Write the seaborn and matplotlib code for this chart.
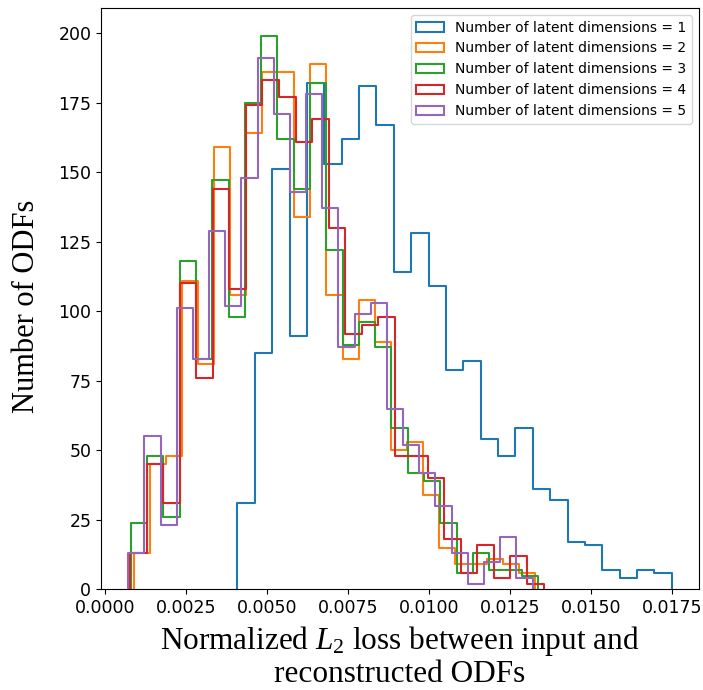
import numpy as np
import pandas as pd
import matplotlib
matplotlib.use("Agg")
import matplotlib.pyplot as plt
import seaborn as sns
from matplotlib.patches import Patch

# ---- data (25 bins per series, counts per bin) ----
labels = [f"Number of latent dimensions = {k}" for k in range(1, 6)]
colors = ["#1f77b4", "#ff7f0e", "#2ca02c", "#d62728", "#9467bd"]

bin_lo = [0.00409, 0.000903, 0.000801, 0.000780, 0.000718]
bin_hi = [0.01750, 0.01327, 0.01337, 0.01354, 0.01320]

counts_1 = [31, 85, 151, 91, 182, 153, 162, 181, 167, 114, 128, 109, 79,
            82, 54, 48, 58, 36, 32, 17, 16, 7, 4, 7, 6]
counts_2 = [13, 45, 48, 111, 81, 159, 106, 164, 186, 186, 134, 189, 106,
            83, 104, 89, 50, 53, 34, 15, 9, 9, 11, 9, 6]
counts_3 = [24, 48, 26, 118, 83, 147, 98, 175, 199, 162, 144, 182, 122,
            88, 96, 87, 58, 42, 39, 24, 6, 13, 7, 7, 5]
counts_4 = [13, 45, 31, 110, 76, 144, 108, 174, 183, 177, 161, 169, 130,
            92, 95, 98, 48, 48, 40, 18, 6, 16, 4, 12, 2]
counts_5 = [13, 55, 23, 101, 83, 129, 102, 148, 191, 171, 143, 178, 137,
            87, 99, 103, 65, 52, 42, 30, 13, 2, 10, 19, 4]
all_counts = [counts_1, counts_2, counts_3, counts_4, counts_5]

xlabel = "Normalized $L_2$ loss between input and\nreconstructed ODFs"
ylabel = "Number of ODFs"

plt.rcParams["mathtext.fontset"] = "custom"
plt.rcParams["mathtext.rm"] = "Liberation Serif"
plt.rcParams["mathtext.it"] = "Liberation Serif:italic"

fig = plt.figure(figsize=(7.03, 6.90), dpi=100)
ax = fig.add_axes([0.1437, 0.1457, 0.8506, 0.8427])

for lo, hi, cnt, col in zip(bin_lo, bin_hi, all_counts, colors):
    edges = np.linspace(lo, hi, len(cnt) + 1)
    df = pd.DataFrame({"loss": 0.5 * (edges[:-1] + edges[1:]),
                       "count": np.asarray(cnt, dtype=float)})
    # zero-width end bins so the outline drops to the baseline at both ends
    padded = [float(lo)] + [float(e) for e in edges] + [float(hi)]
    sns.histplot(data=df, x="loss", weights="count", bins=padded,
                 element="step", fill=False, color=col, linewidth=1.5, ax=ax)

ax.set_xticks(np.arange(0, 0.0176, 0.0025))
ax.xaxis.set_major_formatter(matplotlib.ticker.FormatStrFormatter("%.4f"))
ax.tick_params(labelsize=12.5)
ax.set_ylim(0, 209)

ax.set_xlabel(xlabel, fontsize=22.5, family="Liberation Serif", linespacing=1.08)
ax.set_ylabel(ylabel, fontsize=22, family="Liberation Serif")
ax.xaxis.set_label_coords(0.5, -0.060)
ax.yaxis.set_label_coords(-0.10, 0.487)

handles = [Patch(facecolor="none", edgecolor=c, linewidth=1.5, label=l)
           for c, l in zip(colors, labels)]
ax.legend(handles=handles, loc="upper right", fontsize=10)

fig.savefig("out.png", dpi=100)
